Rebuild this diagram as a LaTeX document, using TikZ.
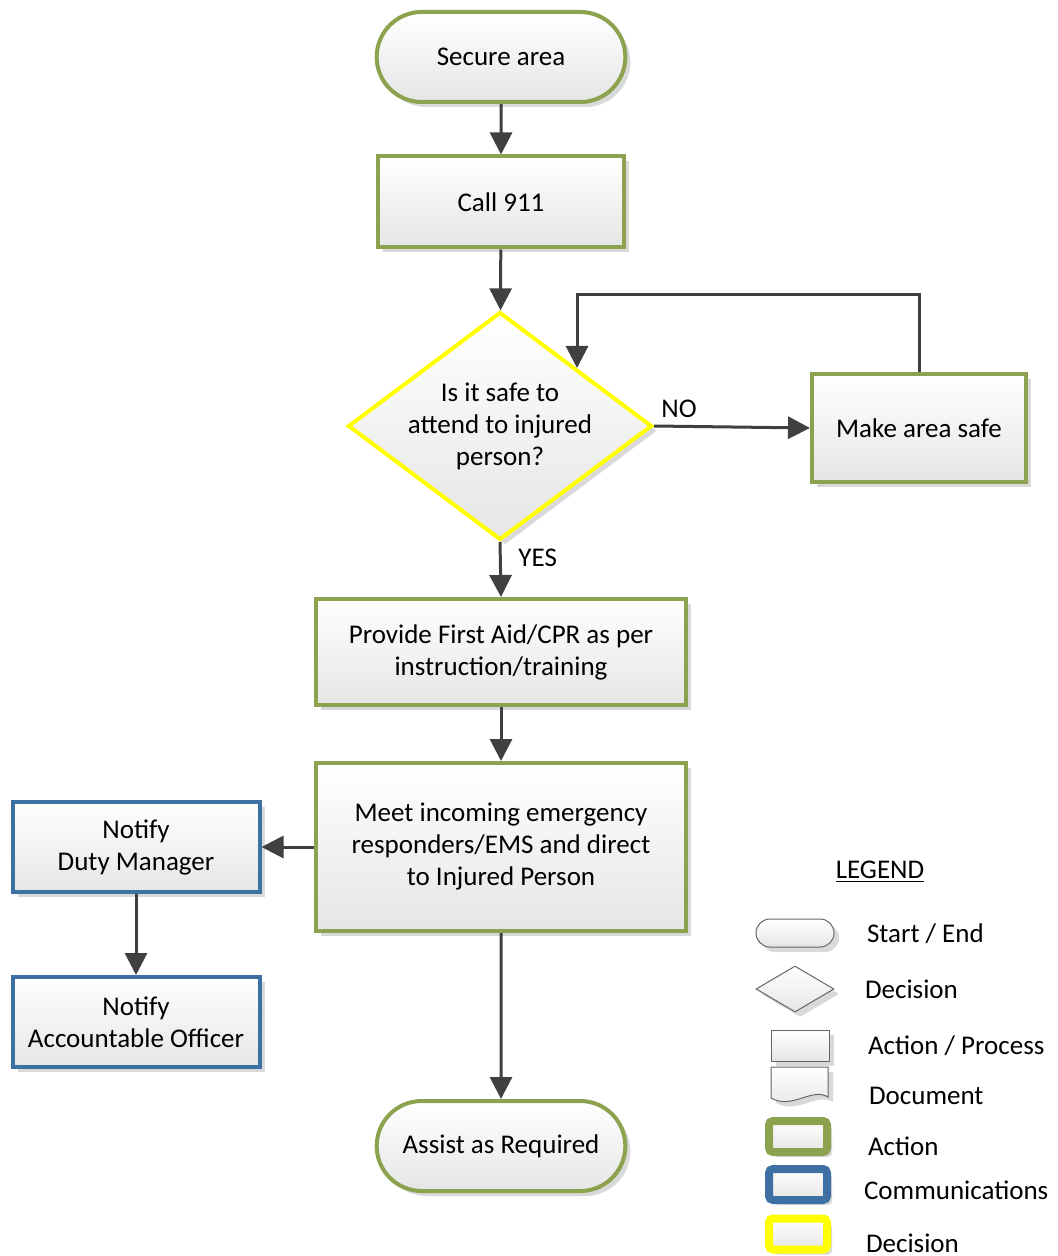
\documentclass[tikz,border=0pt]{standalone}
\usepackage{fontspec}
\setmainfont{Carlito}
\usetikzlibrary{shapes.geometric,shapes.misc,shadows,arrows.meta}

\definecolor{vertAction}{RGB}{140,162,78}
\definecolor{bleuComm}{RGB}{62,112,163}
\definecolor{jauneDecision}{RGB}{255,255,0}
\definecolor{grisFleche}{RGB}{64,64,64}

\begin{document}
\begin{tikzpicture}[x=0.5pt,y=-0.5pt,font=\fontsize{13.5}{16}\selectfont]
    \tikzstyle{ombre}=[drop shadow={shadow xshift=2.5pt,shadow yshift=-2.5pt,fill=black!25,opacity=.6}]
    \tikzstyle{degrade}=[top color=white, bottom color=black!10, ombre]
    \tikzstyle{debutFin}=[rounded rectangle, draw=vertAction, line width=2pt, degrade, minimum width=131pt, minimum height=45pt]
    \tikzstyle{vertEncadre}=[rectangle, draw=vertAction, line width=2pt, degrade, align=center, minimum width=123pt, minimum height=45.5pt]
    \tikzstyle{bleuEncadre}=[rectangle, draw=bleuComm, line width=2pt, degrade, align=center, minimum width=123.5pt, minimum height=45pt]
    \tikzstyle{jauneLosange}=[diamond, aspect=1.33, draw=jauneDecision, line width=2pt, degrade, align=center, inner sep=-1pt, minimum width=152pt, minimum height=114pt]
    \tikzstyle{fleche}=[draw=grisFleche, line width=1.5pt, -{Triangle[length=11pt,width=11pt]}]
    \tikzstyle{legendeForme}=[draw=black!60, line width=0.5pt, degrade, inner sep=0pt]
    \tikzstyle{legendeCadre}=[rectangle, line width=4pt, rounded corners=2pt, degrade, inner sep=0pt, minimum width=29pt, minimum height=15.5pt]

    \useasboundingbox (0,0) rectangle (1057,1256);

    % main flow
    \node [debutFin] (secure) at (501,57) {Secure area};
    \node [vertEncadre] (call) at (501,202) {Call 911};
    \node [jauneLosange] (question) at (500,426) {Is it safe to\\attend to injured\\person?};
    \node [vertEncadre, minimum width=107pt, minimum height=53.5pt] (safe) at (919,428) {Make area safe};
    \node [vertEncadre, minimum width=185pt, minimum height=53pt] (aid) at (501,652) {Provide First Aid/CPR as per\\instruction/training};
    \node [vertEncadre, minimum width=185pt, minimum height=84pt] (meet) at (501,847) {Meet incoming emergency\\responders/EMS and direct\\to Injured Person};
    \node [bleuEncadre] (duty) at (136,847) {Notify\\Duty Manager};
    \node [bleuEncadre] (officer) at (136,1022) {Notify\\Accountable Officer};
    \node [debutFin] (assist) at (501,1146) {Assist as Required};
    \coordinate (retour) at (577,368);

    % arrows
    \draw [fleche] (secure) -- (call);
    \draw [fleche] (call) -- (question);
    \draw [fleche] (question.east) -- (safe.west) node [pos=0.16, above] {NO};
    \draw [fleche] (safe.north) -- ++(0,-78) -| (retour);
    \draw [fleche] (question.south) -- (aid.north) node [pos=0.28, right=5pt] {YES};
    \draw [fleche] (aid) -- (meet);
    \draw [fleche] (meet.west) -- (duty.east);
    \draw [fleche] (duty) -- (officer);
    \draw [fleche] (meet) -- (assist);

    % legend
    \node (legende) at (880,872) {\underline{LEGEND}};
    \node [legendeForme, rounded rectangle, minimum width=39pt, minimum height=14pt] (legDebut) at (795,933) {};
    \node [legendeForme, diamond, minimum width=39pt, minimum height=23pt] (legLosange) at (795,989) {};
    \node [legendeForme, rectangle, minimum width=29pt, minimum height=15.5pt] (legAction) at (800,1045.5) {};
    \draw [legendeForme] (771,1067) -- (828,1067) -- (828,1097) .. controls (812,1087) and (792,1110) .. (771,1098) -- cycle;
    \node [legendeCadre, draw=vertAction] (legVert) at (798,1136.5) {};
    \node [legendeCadre, draw=bleuComm] (legBleu) at (798,1184.5) {};
    \node [legendeCadre, draw=jauneDecision] (legJaune) at (798,1234) {};
    \node [anchor=west] (txtDebut) at (860,934) {Start / End};
    \node [anchor=west] (txtLosange) at (858,989) {Decision};
    \node [anchor=west] (txtAction) at (861,1046) {Action / Process};
    \node [anchor=west] (txtDoc) at (862,1096) {Document};
    \node [anchor=west] (txtVert) at (861,1146) {Action};
    \node [anchor=west] (txtBleu) at (857,1190) {Communications};
    \node [anchor=west] (txtJaune) at (859,1243) {Decision};
\end{tikzpicture}
\end{document}
